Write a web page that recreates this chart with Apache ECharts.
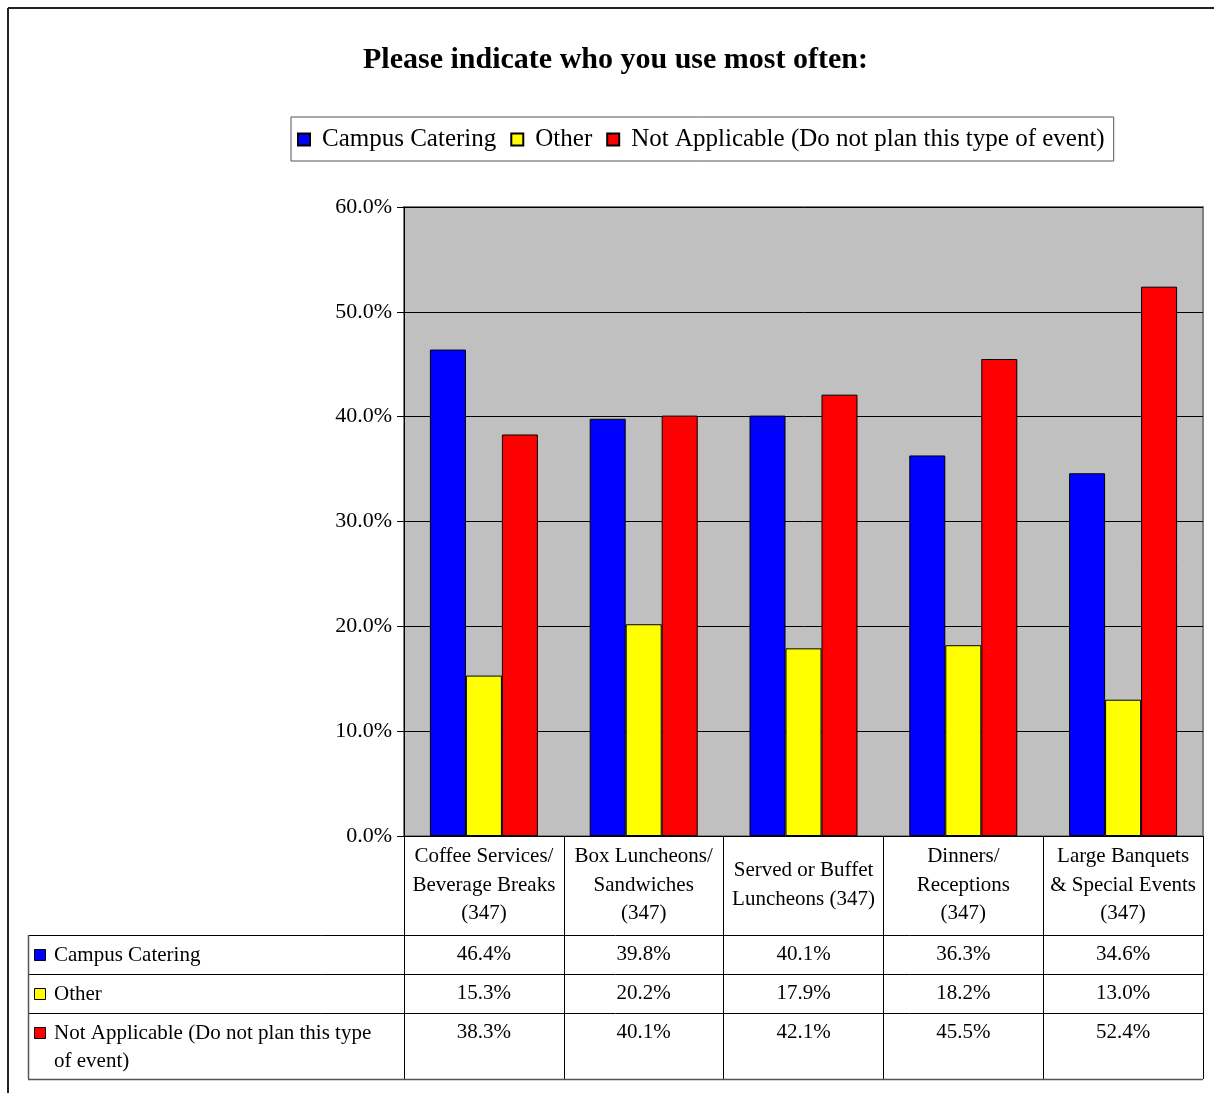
<!DOCTYPE html>
<html>
<head>
<meta charset="utf-8">
<title>Please indicate who you use most often</title>
<script src="https://cdn.jsdelivr.net/npm/echarts@6/dist/echarts.min.js"></script>
<style>
  html, body { margin: 0; padding: 0; background: #ffffff; }
  #chart { width: 1214px; height: 1093px; }
</style>
</head>
<body>
<div id="chart"></div>
<script>
// Survey data: share of respondents (%) per event type (n = 347 each)
const categories = [
  'Coffee Services/\nBeverage Breaks\n(347)',
  'Box Luncheons/\nSandwiches\n(347)',
  'Served or Buffet\nLuncheons (347)',
  'Dinners/\nReceptions\n(347)',
  'Large Banquets\n& Special Events\n(347)'
];
const seriesNames = ['Campus Catering', 'Other', 'Not Applicable (Do not plan this type of event)'];
const tableRowLabels = ['Campus Catering', 'Other', 'Not Applicable (Do not plan this type\nof event)'];
const campusCatering = [46.4, 39.8, 40.1, 36.3, 34.6];
const other = [15.3, 20.2, 17.9, 18.2, 13.0];
const notApplicable = [38.3, 40.1, 42.1, 45.5, 52.4];
const seriesColors = ['#0000FF', '#FFFF00', '#FF0000'];
const yMin = 0, yMax = 60, yStep = 10;

const FONT = '"Liberation Serif", "Times New Roman", serif';
const seriesData = [campusCatering, other, notApplicable];

const chart = echarts.init(document.getElementById('chart'), null, { renderer: 'canvas' });

const option = {
  backgroundColor: '#ffffff',
  animation: false,
  textStyle: { fontFamily: FONT, color: '#000' },
  title: {
    text: 'Please indicate who you use most often:',
    left: 358,
    top: 40,
    textStyle: { fontFamily: FONT, fontSize: 30, fontWeight: 'bold', color: '#000' }
  },
  legend: {
    left: 291,
    top: 117,
    orient: 'horizontal',
    padding: [10, 9, 9, 6],
    itemGap: 14,
    itemWidth: 12,
    itemHeight: 12,
    borderColor: '#555',
    borderWidth: 1,
    icon: 'rect',
    textStyle: { fontFamily: FONT, fontSize: 25, color: '#000', padding: [0, 0, 0, 7] },
    data: seriesNames
  },
  grid: {
    left: 404,
    right: 11,
    top: 207,
    bottom: 257,
    show: true,
    backgroundColor: '#C0C0C0',
    borderColor: '#808080',
    borderWidth: 2,
    containLabel: false
  },
  xAxis: {
    type: 'category',
    data: categories,
    axisLine: { show: true, lineStyle: { color: '#000', width: 1 } },
    axisTick: { show: true, inside: false, length: 243, lineStyle: { color: '#000', width: 1 } },
    axisLabel: {
      interval: 0,
      fontFamily: FONT,
      fontSize: 21,
      lineHeight: 28.5,
      color: '#000',
      align: 'center',
      verticalAlign: 'middle',
      margin: 49
    }
  },
  yAxis: {
    type: 'value',
    min: yMin,
    max: yMax,
    interval: yStep,
    axisLine: { show: true, lineStyle: { color: '#000', width: 1 } },
    axisTick: { show: true, length: 7, lineStyle: { color: '#000' } },
    splitLine: { show: true, lineStyle: { color: '#000', width: 1 } },
    axisLabel: {
      fontFamily: FONT,
      fontSize: 22,
      color: '#000',
      margin: 12,
      padding: [4, 0, 0, 0],
      formatter: v => v.toFixed(1) + '%'
    }
  },
  series: seriesNames.map((name, i) => ({
    name,
    type: 'bar',
    data: seriesData[i],
    barWidth: 36,
    barGap: '0%',
    itemStyle: { color: seriesColors[i], borderColor: '#000', borderWidth: 1 }
  }))
};

chart.setOption(option);

// Data table under the plot: rows aligned to the category axis
function buildTable() {
  const c0 = chart.convertToPixel({ xAxisIndex: 0 }, 0);
  const c1 = chart.convertToPixel({ xAxisIndex: 0 }, 1);
  const band = c1 - c0;
  const centers = categories.map((_, i) => chart.convertToPixel({ xAxisIndex: 0 }, i));
  const tableRight = centers[centers.length - 1] + band / 2;
  const axisY = chart.convertToPixel({ yAxisIndex: 0 }, yMin);

  const headerH = 99;
  const rowHeights = [39, 39, 66];
  const labelLeft = 28;
  const rowTops = [];
  let y = axisY + headerH;
  rowHeights.forEach(h => { rowTops.push(y); y += h; });
  const tableBottom = y;

  const els = [];
  const line = (x1, y1, x2, y2, color, w) => els.push({
    type: 'line', silent: true, z: 100,
    shape: { x1, y1, x2, y2 },
    style: { stroke: color || '#000', lineWidth: w || 1 }
  });

  // outer chart frame (left and top edges)
  line(8, 8, 8, 1093, '#222', 2);
  line(8, 8, 1214, 8, '#222', 2);

  // horizontal row rules
  rowTops.forEach(t => line(labelLeft, t + 0.5, tableRight, t + 0.5, '#000', 1));
  line(labelLeft, tableBottom + 0.5, tableRight, tableBottom + 0.5, '#555', 1.5);
  // left edge of the label column
  line(labelLeft + 0.5, rowTops[0], labelLeft + 0.5, tableBottom, '#555', 1.5);

  seriesNames.forEach((name, r) => {
    const top = rowTops[r];
    const midY = top + 20;
    // legend key
    els.push({
      type: 'rect', silent: true, z: 101,
      shape: { x: 34.5, y: midY - 5.5, width: 11, height: 11 },
      style: { fill: seriesColors[r], stroke: '#000', lineWidth: 1 }
    });
    els.push({
      type: 'text', silent: true, z: 101,
      x: 54,
      y: r === 2 ? top + 6 : midY,
      style: {
        text: tableRowLabels[r],
        font: '21px ' + FONT,
        fill: '#000',
        lineHeight: 28,
        align: 'left',
        verticalAlign: r === 2 ? 'top' : 'middle'
      }
    });
    seriesData[r].forEach((v, i) => {
      els.push({
        type: 'text', silent: true, z: 101,
        x: centers[i], y: top + 19,
        style: {
          text: v.toFixed(1) + '%',
          font: '21px ' + FONT,
          fill: '#000',
          align: 'center',
          verticalAlign: 'middle'
        }
      });
    });
  });

  chart.setOption({ graphic: { elements: els } });
}

buildTable();
</script>
</body>
</html>
